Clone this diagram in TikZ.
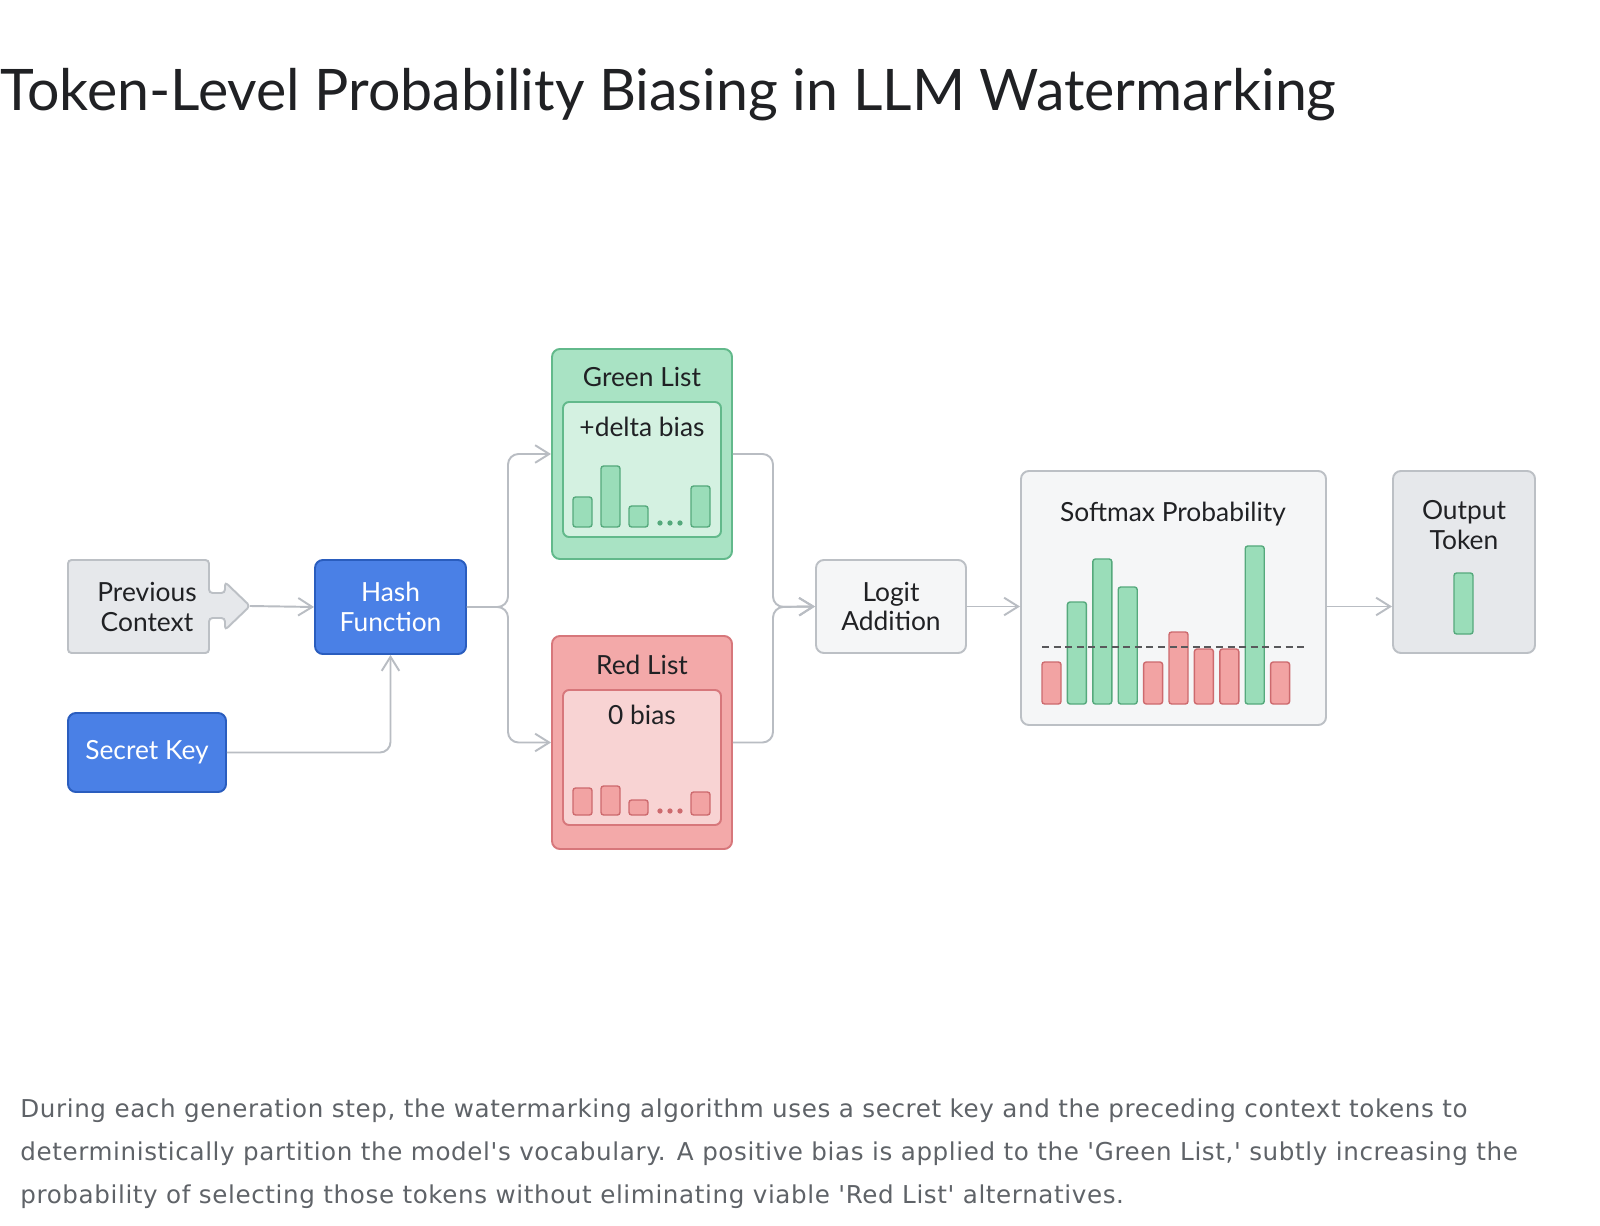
\documentclass[tikz,border=0pt]{standalone}
\usepackage{fontspec}
\setmainfont{Lato}
\newfontfamily\capfont[LetterSpace=2.5]{DejaVu Sans}
\usetikzlibrary{arrows.meta}

\definecolor{ink}{HTML}{202124}
\definecolor{capgray}{HTML}{5F6368}
\definecolor{conncol}{HTML}{B9BDC3}
\definecolor{bluefill}{HTML}{4A80E6}
\definecolor{blueedge}{HTML}{2A5DBE}
\definecolor{grayfill}{HTML}{E6E8EB}
\definecolor{grayedge}{HTML}{BCC0C5}
\definecolor{paperfill}{HTML}{F5F6F7}
\definecolor{greenfill}{HTML}{A9E3C4}
\definecolor{greenedge}{HTML}{62B98B}
\definecolor{greeninner}{HTML}{D4F1E1}
\definecolor{greenbar}{HTML}{9ADDB9}
\definecolor{greenbaredge}{HTML}{55A97C}
\definecolor{redfill}{HTML}{F3A9A9}
\definecolor{rededge}{HTML}{D7777B}
\definecolor{redinner}{HTML}{F8D3D3}
\definecolor{redbar}{HTML}{F2A3A3}
\definecolor{redbaredge}{HTML}{CD6A6E}

\begin{document}
\begin{tikzpicture}[x=0.02cm,y=-0.02cm,
  wh/.style 2 args={minimum width=#1*0.02cm,minimum height=#2*0.02cm},
  box/.style={draw=grayedge,fill=paperfill,line width=1.1pt,rounded corners=4.5pt,inner sep=0pt,align=center,text=ink,font=\fontsize{15}{17}\selectfont},
  bluebox/.style={box,draw=blueedge,fill=bluefill,text=white},
  conn/.style={draw=conncol,line width=1.1pt,rounded corners=6pt,-{Straight Barb[length=8pt,width=10pt]}},
  bar/.style={line width=0.8pt,rounded corners=1.5pt},
  lbl/.style={text=ink,font=\fontsize{15}{17}\selectfont,inner sep=0pt}]
  \useasboundingbox (0,0) rectangle (1600,1226);
  \fill[white] (0,0) rectangle (1600,1226);

  % title
  \node[anchor=base west,inner sep=0pt,text=ink,font=\fontsize{32.6}{38}\selectfont] (title) at (0,111) {Token-Level Probability Biasing in LLM Watermarking};

  % inputs
  \draw[draw=grayedge,fill=grayfill,line width=1.1pt,rounded corners=2pt] (68,560) -- (209,560) -- (209,593) -- (225,593) -- (225,582) -- (250,606) -- (225,630) -- (225,618) -- (209,618) -- (209,653) -- (68,653) -- cycle;
  \node[lbl,align=center] (prev) at (147,607) {Previous\\Context};
  \coordinate (prevtip) at (250,606);
  \node[bluebox,wh={151}{94}] (hash) at (390.5,607) {Hash\\Function};
  \node[bluebox,wh={158}{79}] (key) at (147,752.5) {Secret Key};

  % green list
  \node[box,draw=greenedge,fill=greenfill,wh={180}{210}] (green) at (642,454) {};
  \node[box,draw=greenedge,fill=greeninner,wh={158}{135},rounded corners=3.5pt] (greenin) at (642,469.5) {};
  \node[lbl,anchor=base] (greentitle) at (642,387) {Green List};
  \node[lbl,anchor=base] (greenbias) at (642,437) {+delta bias};
  \foreach \x/\t in {573/497,601/466,629/506,691/486}
    \draw[bar,draw=greenbaredge,fill=greenbar] (\x,527) rectangle (\x+19,\t);
  \foreach \d in {660,670,680}
    \fill[greenbaredge] (\d,523) circle (1.5pt);

  % red list
  \node[box,draw=rededge,fill=redfill,wh={180}{213}] (red) at (642,742.5) {};
  \node[box,draw=rededge,fill=redinner,wh={158}{135},rounded corners=3.5pt] (redin) at (642,757.5) {};
  \node[lbl,anchor=base] (redtitle) at (642,674) {Red List};
  \node[lbl,anchor=base] (redbias) at (642,724) {0 bias};
  \foreach \x/\t in {573/788,601/786,629/800,691/792}
    \draw[bar,draw=redbaredge,fill=redbar] (\x,815) rectangle (\x+19,\t);
  \foreach \d in {660,670,680}
    \fill[redbaredge] (\d,811) circle (1.5pt);

  % logits and softmax
  \node[box,wh={150}{93}] (logit) at (891,606.5) {Logit\\Addition};
  \node[box,wh={305}{254}] (softmax) at (1173.5,598) {};
  \node[lbl,anchor=base] (softtitle) at (1173,521) {Softmax Probability};
  \foreach \i/\h/\c in {0/42/red,1/102/green,2/145/green,3/117/green,4/42/red,5/72/red,6/55/red,7/55/red,8/158/green,9/42/red}
    \draw[bar,draw=\c baredge,fill=\c bar] (1042+25.4*\i,704) rectangle (1061+25.4*\i,704-\h);
  \draw[draw=ink!75,line width=1pt,dash pattern=on 4pt off 2.6pt] (1042,647) -- (1305,647);

  % output
  \node[box,fill=grayfill,wh={142}{182}] (output) at (1464,562) {};
  \node[lbl,align=center] (outtitle) at (1464,525) {Output\\Token};
  \draw[bar,draw=greenbaredge,fill=greenbar] (1454,573) rectangle (1473,634);

  % connectors
  \coordinate (split) at (508,607);
  \coordinate (merge) at (773,607);
  \draw[conn] (prevtip) -- (hash.west);
  \draw[conn] (key.east) -| (hash.south);
  \draw[conn] (hash.east) -- (split) |- (green.west);
  \draw[conn] (hash.east) -- (split) |- (red.west);
  \draw[conn] (green.east) -| (merge) -- (logit.west);
  \draw[conn] (red.east) -| (merge) -- (logit.west);
  \draw[conn] (logit.east) -- (logit.east -| softmax.west);
  \draw[conn] (softmax.east |- logit.east) -- (output.west |- logit.east);

  % caption
  \node[anchor=north west,align=left,inner sep=0pt,text=capgray,font=\capfont\fontsize{14}{24.7}\selectfont] (caption) at (20,1098) {During each generation step, the watermarking algorithm uses a secret key and the preceding context tokens to\\deterministically partition the model's vocabulary. A positive bias is applied to the 'Green List,' subtly increasing the\\probability of selecting those tokens without eliminating viable 'Red List' alternatives.};
\end{tikzpicture}
\end{document}
